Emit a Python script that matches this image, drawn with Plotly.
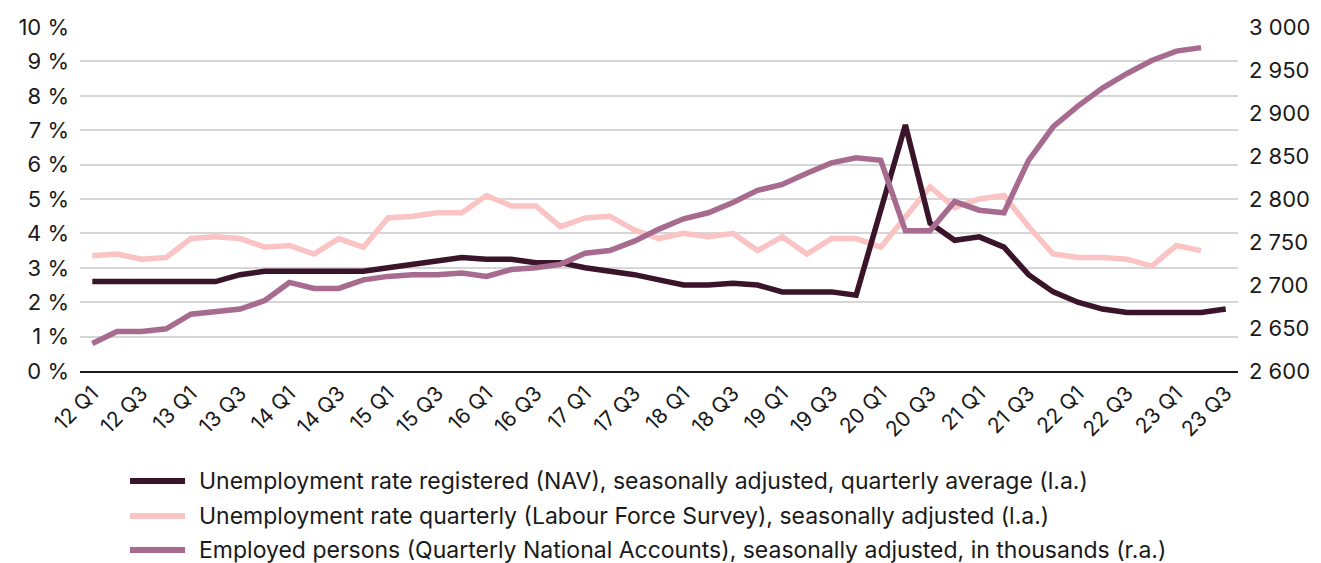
import plotly.graph_objects as go

quarters = [f"{y} Q{q}" for y in range(12, 24) for q in range(1, 5)][:47]

nav_rate = [2.6, 2.6, 2.6, 2.6, 2.6, 2.6, 2.8, 2.9, 2.9, 2.9, 2.9, 2.9,
            3.0, 3.1, 3.2, 3.3, 3.25, 3.25, 3.15, 3.15, 3.0, 2.9, 2.8, 2.65,
            2.5, 2.5, 2.55, 2.5, 2.3, 2.3, 2.3, 2.2, 4.7, 7.15, 4.3, 3.8,
            3.9, 3.6, 2.8, 2.3, 2.0, 1.8, 1.7, 1.7, 1.7, 1.7, 1.8]

lfs_rate = [3.35, 3.4, 3.25, 3.3, 3.85, 3.9, 3.85, 3.6, 3.65, 3.4, 3.85, 3.6,
            4.45, 4.5, 4.6, 4.6, 5.1, 4.8, 4.8, 4.2, 4.45, 4.5, 4.1, 3.85,
            4.0, 3.9, 4.0, 3.5, 3.9, 3.4, 3.85, 3.85, 3.6, 4.5, 5.35, 4.75,
            5.0, 5.1, 4.2, 3.4, 3.3, 3.3, 3.25, 3.05, 3.65, 3.5]

employed = [2632, 2646, 2646, 2649, 2666, 2669, 2672, 2682, 2703, 2696, 2696, 2706,
            2710, 2712, 2712, 2714, 2710, 2718, 2720, 2724, 2737, 2740, 2751, 2765,
            2777, 2784, 2796, 2810, 2817, 2830, 2842, 2848, 2845, 2763, 2763, 2797,
            2787, 2784, 2845, 2884, 2908, 2929, 2946, 2961, 2972, 2976]

left_tickvals = list(range(0, 11))
left_ticktext = [f"{v} %" for v in left_tickvals]
right_tickvals = [2600, 2650, 2700, 2750, 2800, 2850, 2900, 2950, 3000]
right_ticktext = ["2 600", "2 650", "2 700", "2 750", "2 800", "2 850", "2 900", "2 950", "3 000"]
x_ticks = quarters[::2]

names = [
    "Unemployment rate registered (NAV), seasonally adjusted, quarterly average (l.a.)",
    "Unemployment rate quarterly (Labour Force Survey), seasonally adjusted (l.a.)",
    "Employed persons (Quarterly National Accounts), seasonally adjusted, in thousands (r.a.)",
]
colors = ["#3a1428", "#fbc4c4", "#a66b8f"]

FONT = "Inter"
TXT = "#1a1a1a"
fig = go.Figure()
fig.add_trace(go.Scatter(x=quarters[:len(lfs_rate)], y=lfs_rate, mode="lines",
                         line=dict(color=colors[1], width=5.5), name=names[1]))
fig.add_trace(go.Scatter(x=quarters[:len(employed)], y=employed, mode="lines", yaxis="y2",
                         line=dict(color=colors[2], width=5.5), name=names[2]))
fig.add_trace(go.Scatter(x=quarters, y=nav_rate, mode="lines",
                         line=dict(color=colors[0], width=5.5), name=names[0]))

# page body has an 8px margin; work in figure coordinates
OFF = 8
W, H = 1321 - OFF, 563 - OFF
L, T = 80 - OFF, 27 - OFF
plot_right = 1237.6 - OFF
plot_bottom = 371 - OFF
R, B = W - plot_right, H - plot_bottom
pw, ph = W - L - R, H - T - B

def px2paper(x, y):
    return (x - OFF - L) / pw, (plot_bottom - (y - OFF)) / ph

shapes = []
annotations = []
rows = [481, 516, 550]
for i, (nm, c) in enumerate(zip(names, colors)):
    x0, y0 = px2paper(130, rows[i])
    x1, _ = px2paper(185, rows[i])
    shapes.append(dict(type="line", xref="paper", yref="paper", x0=x0, x1=x1, y0=y0, y1=y0,
                       line=dict(color=c, width=6)))
    tx, _ = px2paper(197, rows[i])
    annotations.append(dict(xref="paper", yref="paper", x=tx, y=y0, text=nm, showarrow=False,
                            xanchor="left", yanchor="middle",
                            font=dict(family=FONT, size=23, color=TXT)))

fig.update_layout(
    width=W, height=H,
    margin=dict(l=L, r=R, t=T, b=B, autoexpand=False),
    paper_bgcolor="white", plot_bgcolor="white",
    showlegend=False,
    font=dict(family=FONT, color=TXT),
    shapes=shapes, annotations=annotations,
    xaxis=dict(type="category", categoryorder="array", categoryarray=quarters,
               range=[-0.5, 46.5], tickvals=x_ticks, ticktext=x_ticks, tickangle=-45,
               showgrid=False, showline=True, linecolor=TXT, linewidth=1.5,
               ticks="", tickfont=dict(family=FONT, size=21, color=TXT)),
    yaxis=dict(range=[0, 10], tickvals=left_tickvals, ticktext=left_ticktext,
               showgrid=True, gridcolor="#d6d6d6", gridwidth=1.5,
               zeroline=False, ticks="", ticklabelstandoff=10,
               tickfont=dict(family=FONT, size=22, color=TXT)),
    yaxis2=dict(range=[2600, 3000], overlaying="y", side="right",
                tickvals=right_tickvals, ticktext=right_ticktext,
                showgrid=False, zeroline=False, ticks="", ticklabelstandoff=10,
                tickfont=dict(family=FONT, size=22, color=TXT)),
)

fig.write_html("out.html")
